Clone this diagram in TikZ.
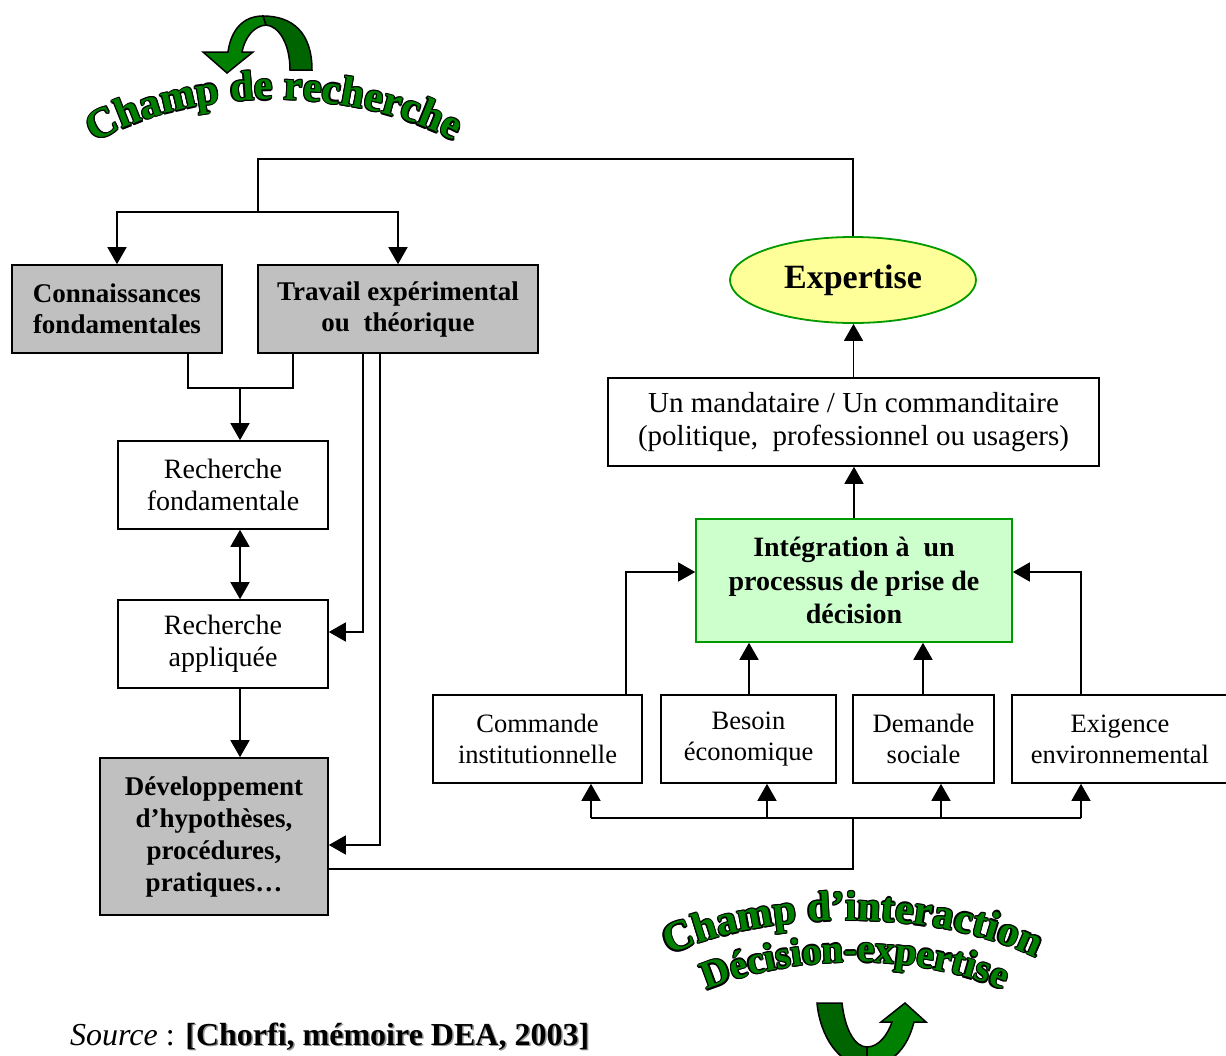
\documentclass[tikz,border=0pt]{standalone}
\usepackage{fontspec}
\setmainfont{Liberation Serif}
\usepackage[copies]{contour}
\usetikzlibrary{arrows.meta,decorations.text,shapes.geometric}
\contourlength{1.3pt}
\contournumber{8}
\definecolor{boxgray}{RGB}{192,192,192}
\definecolor{expyellow}{RGB}{255,255,153}
\definecolor{intgreen}{RGB}{204,255,204}
\definecolor{linegreen}{RGB}{0,153,0}
\definecolor{artgreen}{RGB}{0,128,0}
\definecolor{artdark}{RGB}{0,100,0}
\definecolor{shadowgray}{RGB}{150,150,150}
\newcommand\wordart[1]{\contour{black}{#1}}
\newcommand\shadowtext[1]{\makebox[0pt][l]{\hspace{1.5pt}\raisebox{-1.5pt}{\color{shadowgray}#1}}#1}
\begin{document}
\begin{tikzpicture}[x=1pt,y=-1pt,
  >={Triangle[length=17pt,width=19pt]},
  box/.style={draw,line width=1.6pt,minimum height=88pt,inner sep=0pt,align=center,font=\fontsize{28}{32}\selectfont},
  greybox/.style={box,fill=boxgray,font=\fontsize{27}{31}\selectfont\bfseries},
  lowbox/.style={box,font=\fontsize{26.5}{31}\selectfont},
  wire/.style={line width=1.5pt},
  link/.style={wire,->}]
\useasboundingbox (0,0) rectangle (1226,1055);

% titles
\path[decorate,decoration={text effects along path,
    text={Champ de recherche}, text align=center,
    text effects/.cd, text along path, character command=\wordart,
    characters={text=artgreen,font=\fontsize{42}{42}\selectfont\bfseries}}]
  (70,160) .. controls (170,80) and (370,80) .. (480,157);
\path[decorate,decoration={text effects along path,
    text={Champ d'interaction}, text align=center,
    text effects/.cd, text along path, character command=\wordart,
    characters={text=artgreen,font=\fontsize{42}{42}\selectfont\bfseries}}]
  (650,965) .. controls (755,905) and (950,905) .. (1055,968);
\path[decorate,decoration={text effects along path,
    text={Décision-expertise}, text align=center,
    text effects/.cd, text along path, character command=\wordart,
    characters={text=artgreen,font=\fontsize{39}{39}\selectfont\bfseries}}]
  (690,998) .. controls (785,950) and (925,950) .. (1020,998);

% turning arrows
\draw[fill=artgreen,line width=1.5pt] (263,16) .. controls (243,16) and (231,30) .. (228,52) -- (203,52) -- (227,73) -- (253,52) -- (242,52) .. controls (245,37) and (254,26) .. (266,25) -- cycle;
\draw[fill=artdark,line width=1.5pt] (263,16) .. controls (292,16) and (312,32) .. (312,70) -- (290,70) .. controls (290,44) and (279,26) .. (266,25) -- cycle;
\draw[fill=artdark,line width=1.5pt] (817,1003) -- (842,1003) .. controls (845,1030) and (855,1047) .. (867,1047) -- (867,1066) .. controls (838,1066) and (820,1035) .. (817,1003) -- cycle;
\draw[fill=artgreen,line width=1.5pt] (867,1047) .. controls (879,1047) and (888,1034) .. (892,1022) -- (881,1022) -- (905,1003) -- (926,1022) -- (914,1022) .. controls (907,1050) and (890,1066) .. (867,1066) -- cycle;

% research side
\node[greybox,minimum width=210pt] (conn) at (117,309) {Connaissances\\fondamentales};
\node[greybox,minimum width=280pt] (trav) at (398,309) {Travail expérimental\\ou\ \ théorique};
\node[box,minimum width=210pt] (rfond) at (223,485) {Recherche\\fondamentale};
\node[box,minimum width=210pt] (rappl) at (223,644) {Recherche\\appliquée};
\node[greybox,minimum width=228pt,minimum height=157pt,font=\fontsize{27}{32}\selectfont\bfseries] (dev) at (214,836.5) {Développement\\d’hypothèses,\\procédures,\\pratiques…};

% decision side
\node[ellipse,draw=linegreen,line width=1.8pt,fill=expyellow,inner sep=0pt,minimum width=246pt,minimum height=86pt,font=\fontsize{34}{40}\selectfont\bfseries] (exp) at (853,280) {Expertise};
\node[box,minimum width=491pt,font=\fontsize{29}{33}\selectfont] (mand) at (853.5,422) {Un mandataire / Un commanditaire\\(politique,\ \ professionnel ou usagers)};
\node[box,draw=linegreen,fill=intgreen,minimum width=316pt,minimum height=123pt,font=\fontsize{28}{33.5}\selectfont\bfseries] (integ) at (854,580.5) {Intégration à\ \ un\\processus de prise de\\décision};
\node[lowbox,minimum width=209pt] (cmd) at (537.5,739) {Commande\\institutionnelle};
\node[lowbox,minimum width=175pt] (besoin) at (748.5,739) {Besoin\\économique};
\node[lowbox,minimum width=141pt] (dem) at (923.5,739) {Demande\\sociale};
\node[lowbox,minimum width=216pt] (exig) at (1120,739) {Exigence\\environnemental};

\node[anchor=base west,inner sep=0pt,font=\fontsize{32}{36}\selectfont] (src) at (70,1045) {\textit{Source} : \shadowtext{\bfseries [Chorfi, mémoire DEA, 2003]}};

% connectors
\coordinate (top) at (258,159);
\coordinate (split) at (258,212);
\coordinate (join) at (240,388);
\coordinate (fan) at (853,818);
\draw[wire] (exp.north) |- (top) -- (split);
\draw[link] (split) -| (conn.north);
\draw[link] (split) -| (trav.north);
\draw[wire] (188,0 |- conn.south) |- (join) -| (293,0 |- trav.south);
\draw[link] (join) -- (join |- rfond.north);
\draw[link,<->] (rfond.south -| join) -- (rappl.north -| join);
\draw[link] (rappl.south -| join) -- (dev.north -| join);
\draw[link] (363,0 |- trav.south) |- ([yshift=12pt]rappl.east);
\draw[link] (380,0 |- trav.south) |- ([yshift=-8.5pt]dev.east);
\draw[wire] ([yshift=-32.5pt]dev.east) -| (fan);
\draw[wire] (591,0 |- fan) -- (1081,0 |- fan);
\foreach \b/\x in {cmd/591, besoin/767, dem/941, exig/1081}
  \draw[link] (\x,0 |- fan) -- (\x,0 |- \b.south);
\draw[link] (626,0 |- cmd.north) |- ([yshift=8.5pt]integ.west);
\draw[link] (1081,0 |- exig.north) |- ([yshift=8.5pt]integ.east);
\draw[link] (749,0 |- besoin.north) -- (749,0 |- integ.south);
\draw[link] (923,0 |- dem.north) -- (923,0 |- integ.south);
\draw[link] (integ.north) -- (integ.north |- mand.south);
\draw[link] (mand.north) -- (mand.north |- exp.south);
\end{tikzpicture}
\end{document}
